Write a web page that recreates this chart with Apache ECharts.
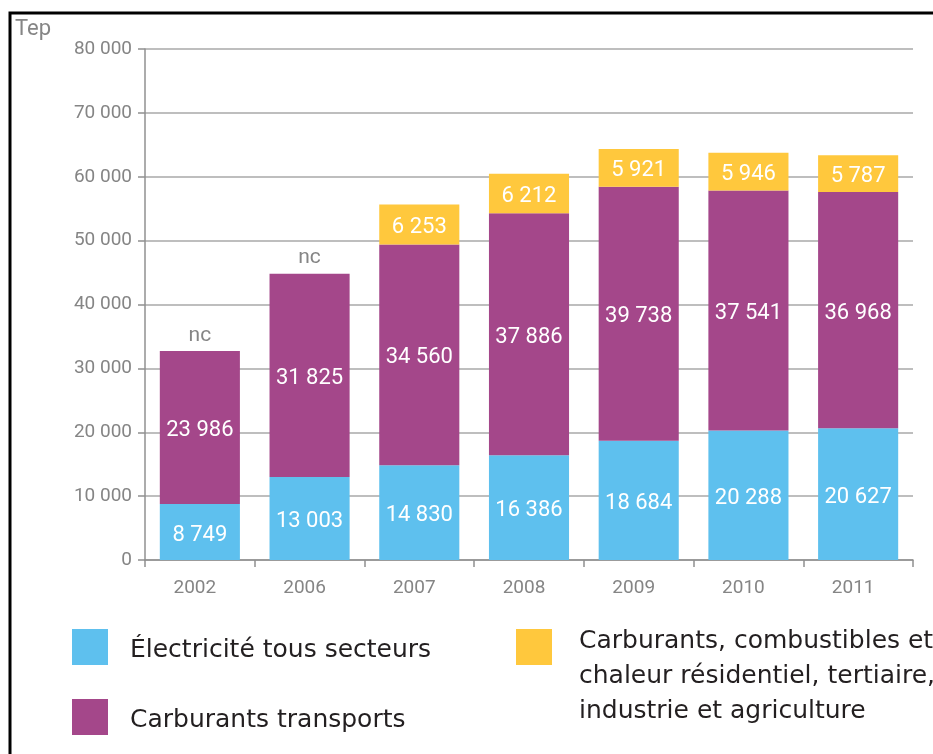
<!DOCTYPE html>
<html>
<head>
<meta charset="utf-8">
<script src="https://cdn.jsdelivr.net/npm/echarts@6/dist/echarts.min.js"></script>
<style>
  html, body { margin: 0; padding: 0; background: #fff; }
  #chart { width: 933px; height: 754px; }
</style>
</head>
<body>
<div id="chart"></div>
<script>
// années
const years = ['2002', '2006', '2007', '2008', '2009', '2010', '2011']
// Tep par poste (null = non connu)
const electricite = [8749, 13003, 14830, 16386, 18684, 20288, 20627]
const transports = [23986, 31825, 34560, 37886, 39738, 37541, 36968]
const autres = [null, null, 6253, 6212, 5921, 5946, 5787]

const legendNames = [
  'Électricité tous secteurs',
  'Carburants transports',
  'Carburants, combustibles et\nchaleur résidentiel, tertiaire,\nindustrie et agriculture'
]

const colors = ['#5ec0ee', '#a4478a', '#ffc83d']
const grey = '#858585'
const font = 'Roboto'
const legendFont = '25px "DejaVu Sans"'

// séparateur de milliers avec espace
function fmt(v) {
  return String(v).replace(/\B(?=(\d{3})+(?!\d))/g, ' ')
}

const chart = echarts.init(document.getElementById('chart'))

const labelInside = {
  show: true,
  position: 'inside',
  offset: [0, 3],
  color: '#fff',
  fontSize: 22,
  fontFamily: font,
  formatter: p => fmt(p.value)
}

const option = {
  animation: false,
  grid: { left: 145, right: 20, top: 49, bottom: 194 },
  xAxis: {
    type: 'category',
    data: years,
    axisLine: { lineStyle: { color: '#909090', width: 1.5 } },
    axisTick: { show: true, length: 7, lineStyle: { color: '#909090', width: 1.5 } },
    axisLabel: { color: grey, fontSize: 19, fontFamily: font, margin: 19, padding: [0, 10, 0, 0] }
  },
  yAxis: {
    type: 'value',
    min: 0,
    max: 80000,
    interval: 10000,
    name: 'Tep',
    nameLocation: 'end',
    nameGap: 0,
    nameTextStyle: { color: grey, fontSize: 22, fontFamily: font, align: 'left', padding: [0, 0, 9, -130] },
    axisLine: { show: true, lineStyle: { color: '#909090', width: 1.5 } },
    axisTick: { show: true, length: 7, lineStyle: { color: '#909090', width: 1.5 } },
    splitLine: { lineStyle: { color: '#a8a8a8', width: 1.5 } },
    axisLabel: { color: grey, fontSize: 19, fontFamily: font, margin: 13, formatter: v => fmt(v) }
  },
  series: [
    {
      name: legendNames[0],
      type: 'bar',
      stack: 'total',
      barCategoryGap: '27%',
      itemStyle: { color: colors[0] },
      label: labelInside,
      data: electricite
    },
    {
      name: legendNames[1],
      type: 'bar',
      stack: 'total',
      itemStyle: { color: colors[1] },
      label: labelInside,
      data: transports
    },
    {
      name: legendNames[2],
      type: 'bar',
      stack: 'total',
      itemStyle: { color: colors[2] },
      label: labelInside,
      data: autres.map(v => v == null
        ? { value: 0, label: { position: 'top', offset: [0, 0], color: grey, fontSize: 21, distance: 5, formatter: 'nc' } }
        : v)
    }
  ],
  graphic: [
    // cadre
    {
      type: 'rect',
      shape: { x: 10, y: 13, width: 960, height: 800 },
      style: { fill: 'none', stroke: '#000', lineWidth: 3 }
    },
    // légende
    { type: 'rect', shape: { x: 72, y: 629, width: 36, height: 36 }, style: { fill: colors[0] } },
    { type: 'text', x: 130, y: 650, style: { text: legendNames[0], fill: '#231f20', font: legendFont, verticalAlign: 'middle' } },
    { type: 'rect', shape: { x: 72, y: 699, width: 36, height: 36 }, style: { fill: colors[1] } },
    { type: 'text', x: 130, y: 720, style: { text: legendNames[1], fill: '#231f20', font: legendFont, verticalAlign: 'middle' } },
    { type: 'rect', shape: { x: 516, y: 629, width: 36, height: 36 }, style: { fill: colors[2] } },
    { type: 'text', x: 579, y: 624, style: { text: legendNames[2], fill: '#231f20', font: legendFont, lineHeight: 35, verticalAlign: 'top' } }
  ]
}

chart.setOption(option)
</script>
</body>
</html>
